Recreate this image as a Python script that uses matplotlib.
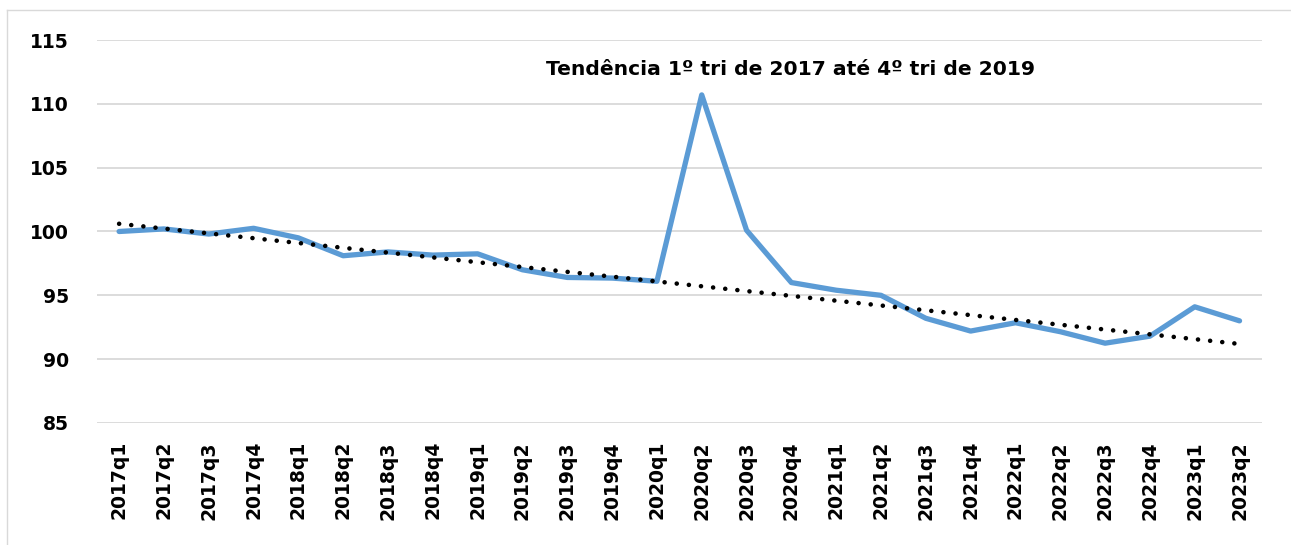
import numpy as np
import matplotlib
matplotlib.use("Agg")
import matplotlib.pyplot as plt
from matplotlib.lines import Line2D

# Quarters shown on the x axis
quarters = ['2017q1', '2017q2', '2017q3', '2017q4',
            '2018q1', '2018q2', '2018q3', '2018q4',
            '2019q1', '2019q2', '2019q3', '2019q4',
            '2020q1', '2020q2', '2020q3', '2020q4',
            '2021q1', '2021q2', '2021q3', '2021q4',
            '2022q1', '2022q2', '2022q3', '2022q4',
            '2023q1', '2023q2']

# Index values
values = [100.0, 100.2, 99.8, 100.25,
          99.5, 98.1, 98.4, 98.15,
          98.25, 97.0, 96.4, 96.35,
          96.1, 110.7, 100.1, 96.0,
          95.4, 95.0, 93.2, 92.2,
          92.85, 92.15, 91.25, 91.8,
          94.1, 93.0]

title_text = 'Tendência 1º tri de 2017 até 4º tri de 2019'
y_ticks = [85, 90, 95, 100, 105, 110, 115]

# Linear trend fitted on 2017q1..2019q4, extended over the whole period
x = np.arange(len(quarters))
n_fit = quarters.index('2019q4') + 1
slope, intercept = np.polyfit(x[:n_fit], values[:n_fit], 1)
trend = intercept + slope * x

fig = plt.figure(figsize=(12.91, 5.45), dpi=100)
ax = fig.add_axes([0.0749, 0.2239, 0.9026, 0.7027])

ax.plot(x, values, color='#5b9bd5', linewidth=3.8, solid_joinstyle='round',
        solid_capstyle='round', zorder=3)
ax.plot(x, trend, color='black', linewidth=3.3, linestyle=(0, (0.01, 2.65)),
        dash_capstyle='round', zorder=4)

ax.set_xlim(-0.5, len(quarters) - 0.5)
ax.set_ylim(85, 115)
ax.set_yticks(y_ticks)
ax.set_xticks(x)
ax.set_xticklabels(quarters, rotation=90, fontsize=13.5, fontweight='bold',
                   va='top', ha='center')
ax.set_yticklabels([str(v) for v in y_ticks], fontsize=13.5, fontweight='bold')
ax.tick_params(axis='both', length=0)
ax.tick_params(axis='x', pad=13)
ax.tick_params(axis='y', pad=20)

ax.grid(axis='y', color='#d9d9d9', linewidth=1.3)
ax.set_axisbelow(True)
for s in ax.spines.values():
    s.set_visible(False)

ax.text(0.595, 0.922, title_text, transform=ax.transAxes, ha='center',
        va='center', fontsize=14.6, fontweight='bold')

# light frame (top and left edges only are visible in the picture)
top = 1 - 9.5 / 545
left = 7 / 1291
fig.add_artist(Line2D([left, 1.0], [top, top], transform=fig.transFigure,
                      color='#d9d9d9', linewidth=1.0))
fig.add_artist(Line2D([left, left], [0.0, top], transform=fig.transFigure,
                      color='#d9d9d9', linewidth=1.0))

fig.savefig('out.png', dpi=100)
